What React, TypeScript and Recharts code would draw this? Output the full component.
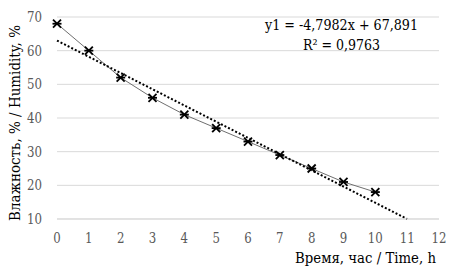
import React from 'react';
import { ComposedChart, Line, XAxis, YAxis, CartesianGrid, Customized } from 'recharts';

const hours = [0, 1, 2, 3, 4, 5, 6, 7, 8, 9, 10];
const humidity = [68, 60, 52, 46, 41, 37, 33, 29, 25, 21, 18];
const trendHours = [0, 11];
const trendValues = [63, 10];
const xTicks = [0, 1, 2, 3, 4, 5, 6, 7, 8, 9, 10, 11, 12];
const yTicks = [10, 20, 30, 40, 50, 60, 70];
const equationText = 'y1 = -4,7982x + 67,891';
const r2Text = 'R² = 0,9763';
const yTitle = 'Влажность, % / Humidity, %';
const xTitle = 'Время, час / Time, h';

const data = hours.map((h, i) => ({ x: h, y: humidity[i] }));
const trend = trendHours.map((h, i) => ({ x: h, t: trendValues[i] }));

const FONT = 'DejaVu Serif';

const StarDot = (props: any) => {
  const { cx, cy } = props;
  if (cx == null || cy == null) return null;
  const s = 4;
  return (
    <g stroke="#000" strokeWidth={1.8}>
      <line x1={cx - s} y1={cy - s} x2={cx + s} y2={cy + s} />
      <line x1={cx - s} y1={cy + s} x2={cx + s} y2={cy - s} />
      <line x1={cx - s - 0.5} y1={cy} x2={cx + s + 0.5} y2={cy} />
    </g>
  );
};

const XTick = (props: any) => {
  const { x, payload } = props;
  const s = String(payload.value);
  return (
    <text x={x} y={243} textAnchor="middle" fontFamily={FONT} fontSize={14} fill="#595959"
      textLength={s.length * 7.5} lengthAdjust="spacingAndGlyphs">{s}</text>
  );
};

const YTick = (props: any) => {
  const { y, payload } = props;
  const s = String(payload.value);
  return (
    <text x={42} y={y + 5} textAnchor="end" fontFamily={FONT} fontSize={14} fill="#595959"
      textLength={s.length * 7.5} lengthAdjust="spacingAndGlyphs">{s}</text>
  );
};

const Equation = () => (
  <g fontSize={14} fill="#000" fontFamily={FONT}>
    <text x={341.5} y={30} textAnchor="middle" textLength={153} lengthAdjust="spacingAndGlyphs">{equationText}</text>
    <text x={341.5} y={50} textAnchor="middle" textLength={77} lengthAdjust="spacingAndGlyphs">{r2Text}</text>
  </g>
);

export default function App() {
  return (
    <div style={{ position: 'absolute', left: 0, top: 0, width: 451, height: 267, background: '#fff' }}>
      <ComposedChart width={451} height={267} margin={{ top: 17, right: 12, bottom: 0, left: 0 }}>
        <CartesianGrid horizontal vertical={false} stroke="#d9d9d9" />
        <XAxis
          type="number"
          dataKey="x"
          domain={[0, 12]}
          ticks={xTicks}
          interval={0}
          height={48}
          axisLine={{ stroke: '#d9d9d9' }}
          tickLine={false}
          tick={<XTick />}
          label={{
            content: () => (
              <text x={436} y={263} textAnchor="end" fontFamily={FONT} fontSize={14} fill="#000"
                textLength={141} lengthAdjust="spacingAndGlyphs">
                {xTitle}
              </text>
            ),
          }}
        />
        <YAxis
          type="number"
          domain={[10, 70]}
          ticks={yTicks}
          interval={0}
          width={57}
          axisLine={false}
          tickLine={false}
          tick={<YTick />}
          label={{
            content: () => (
              <text
                x={0}
                y={0}
                transform="translate(20,123) rotate(-90)"
                textAnchor="middle"
                fontFamily={FONT}
                fontSize={14}
                fill="#000"
                textLength={196}
                lengthAdjust="spacingAndGlyphs"
              >
                {yTitle}
              </text>
            ),
          }}
        />
        <Line
          data={data}
          dataKey="y"
          type="linear"
          stroke="#6f6f6f"
          strokeWidth={1}
          dot={<StarDot />}
          activeDot={false}
          isAnimationActive={false}
        />
        <Line
          data={trend}
          dataKey="t"
          type="linear"
          stroke="#000"
          strokeWidth={2}
          strokeDasharray="2 2"
          dot={false}
          activeDot={false}
          isAnimationActive={false}
        />
        <Customized component={Equation} />
      </ComposedChart>
    </div>
  );
}
